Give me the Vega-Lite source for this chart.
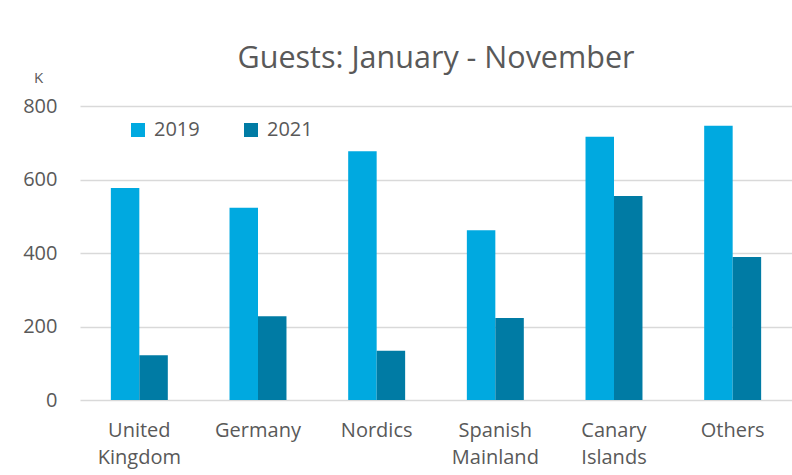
{
  "$schema": "https://vega.github.io/schema/vega-lite/v6.json",
  "width": 712,
  "height": 294,
  "autosize": {"type": "none"},
  "padding": {"left": 80, "top": 106, "right": 0, "bottom": 75},
  "background": "white",
  "title": {
    "text": "Guests: January - November",
    "font": "Open Sans",
    "fontSize": 30.5,
    "fontWeight": "normal",
    "color": "#595959",
    "anchor": "middle",
    "offset": -4
  },
  "data": {
    "values": [
      {"region": "United Kingdom", "year": "2019", "guests": 577},
      {"region": "United Kingdom", "year": "2021", "guests": 122},
      {"region": "Germany", "year": "2019", "guests": 523},
      {"region": "Germany", "year": "2021", "guests": 228},
      {"region": "Nordics", "year": "2019", "guests": 677},
      {"region": "Nordics", "year": "2021", "guests": 134},
      {"region": "Spanish Mainland", "year": "2019", "guests": 462},
      {"region": "Spanish Mainland", "year": "2021", "guests": 223},
      {"region": "Canary Islands", "year": "2019", "guests": 716},
      {"region": "Canary Islands", "year": "2021", "guests": 555},
      {"region": "Others", "year": "2019", "guests": 746},
      {"region": "Others", "year": "2021", "guests": 389}
    ]
  },
  "mark": {"type": "bar"},
  "encoding": {
    "x": {
      "field": "region",
      "type": "nominal",
      "sort": null,
      "scale": {"paddingInner": 0.52, "paddingOuter": 0.26},
      "axis": {
        "title": null,
        "labelAngle": 0,
        "ticks": false,
        "domain": false,
        "labelPadding": 20,
        "labelFont": "Open Sans",
        "labelFontSize": 20,
        "labelColor": "#595959",
        "labelLineHeight": 27,
        "labelExpr": "split(datum.label, ' ')"
      }
    },
    "xOffset": {"field": "year", "type": "nominal"},
    "y": {
      "field": "guests",
      "type": "quantitative",
      "scale": {"domain": [0, 800]},
      "axis": {
        "values": [0, 200, 400, 600, 800],
        "title": "K",
        "titleAngle": 0,
        "titleX": -42,
        "titleY": -29,
        "titleAlign": "center",
        "titleBaseline": "middle",
        "titleFont": "Open Sans",
        "titleFontSize": 15,
        "titleFontWeight": "normal",
        "titleColor": "#595959",
        "ticks": false,
        "domain": false,
        "labelPadding": 23,
        "labelFont": "Open Sans",
        "labelFontSize": 20,
        "labelColor": "#595959",
        "gridColor": "#d9d9d9",
        "gridWidth": 1.5
      }
    },
    "color": {
      "field": "year",
      "type": "nominal",
      "scale": {"domain": ["2019", "2021"], "range": ["#00A9E0", "#007BA4"]},
      "legend": {
        "title": null,
        "orient": "none",
        "direction": "horizontal",
        "legendX": 48,
        "legendY": 14,
        "padding": 0,
        "symbolType": "square",
        "symbolSize": 196,
        "symbolStrokeWidth": 0,
        "labelFont": "Open Sans",
        "labelFontSize": 20,
        "labelColor": "#595959",
        "labelOffset": 6,
        "columnPadding": 41
      }
    }
  },
  "config": {"view": {"stroke": null}}
}
